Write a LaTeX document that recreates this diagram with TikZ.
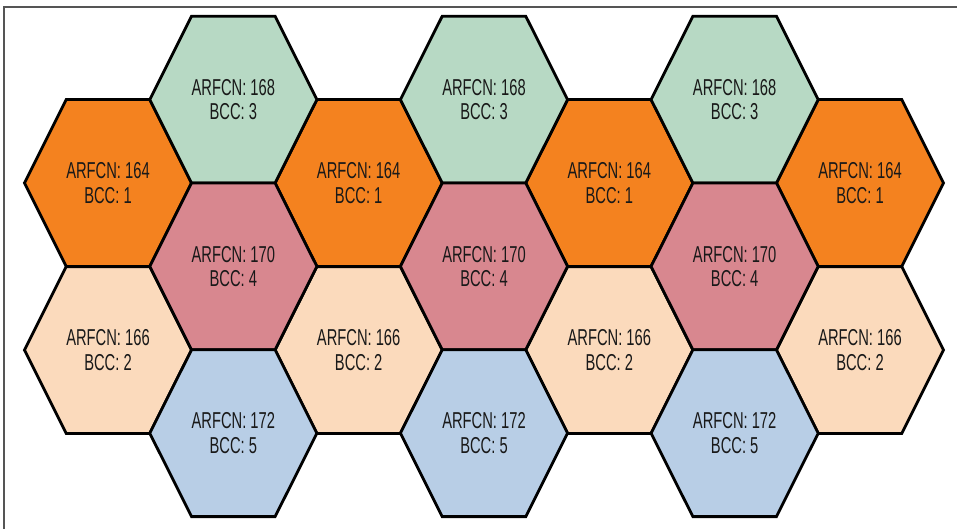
\documentclass[tikz,border=0pt]{standalone}
\usepackage{fontspec}
\setmainfont{Liberation Sans}[FakeStretch=0.64]
\usepackage{xcolor}
\usepackage{tikz}
\definecolor{cellorange}{RGB}{244,130,31}
\definecolor{cellgreen}{RGB}{183,217,196}
\definecolor{cellpink}{RGB}{216,135,143}
\definecolor{cellpeach}{RGB}{251,218,188}
\definecolor{cellblue}{RGB}{184,206,230}
\definecolor{framegray}{RGB}{85,85,85}

\tikzset{
  cell/.style={draw=black, line width=2.8pt, line join=miter},
  celltext/.style={align=center, inner sep=0pt, text=black!90,
    font=\fontsize{23}{24.5}\selectfont},
}
% name, x, y, fill, arfcn, bcc
\newcommand{\hexcell}[6]{%
  \filldraw[cell, fill=#4] (#2-41.78,#3-83.4) -- ++(83.56,0) -- ++(41.78,83.4)
    -- ++(-41.78,83.4) -- ++(-83.56,0) -- ++(-41.78,-83.4) -- cycle;
  \node[celltext] (#1) at (#2,#3) {ARFCN: #5\\BCC: #6};
}

\begin{document}
\begin{tikzpicture}[x=1pt, y=-1pt]
    \useasboundingbox (0,0) rectangle (957,529);
    % frame
    \draw[framegray, line width=1.2pt] (4,529) -- (4,7) -- (957,7);
    % even columns: 164 / 166
    \foreach \col in {0,2,4,6} {
        \hexcell{cellA\col}{108+125.33*\col}{183}{cellorange}{164}{1}
        \hexcell{cellB\col}{108+125.33*\col}{350}{cellpeach}{166}{2}
    }
    % odd columns: 168 / 170 / 172
    \foreach \col in {1,3,5} {
        \hexcell{cellC\col}{108+125.33*\col}{99.6}{cellgreen}{168}{3}
        \hexcell{cellD\col}{108+125.33*\col}{266.4}{cellpink}{170}{4}
        \hexcell{cellE\col}{108+125.33*\col}{433.2}{cellblue}{172}{5}
    }
\end{tikzpicture}
\end{document}
